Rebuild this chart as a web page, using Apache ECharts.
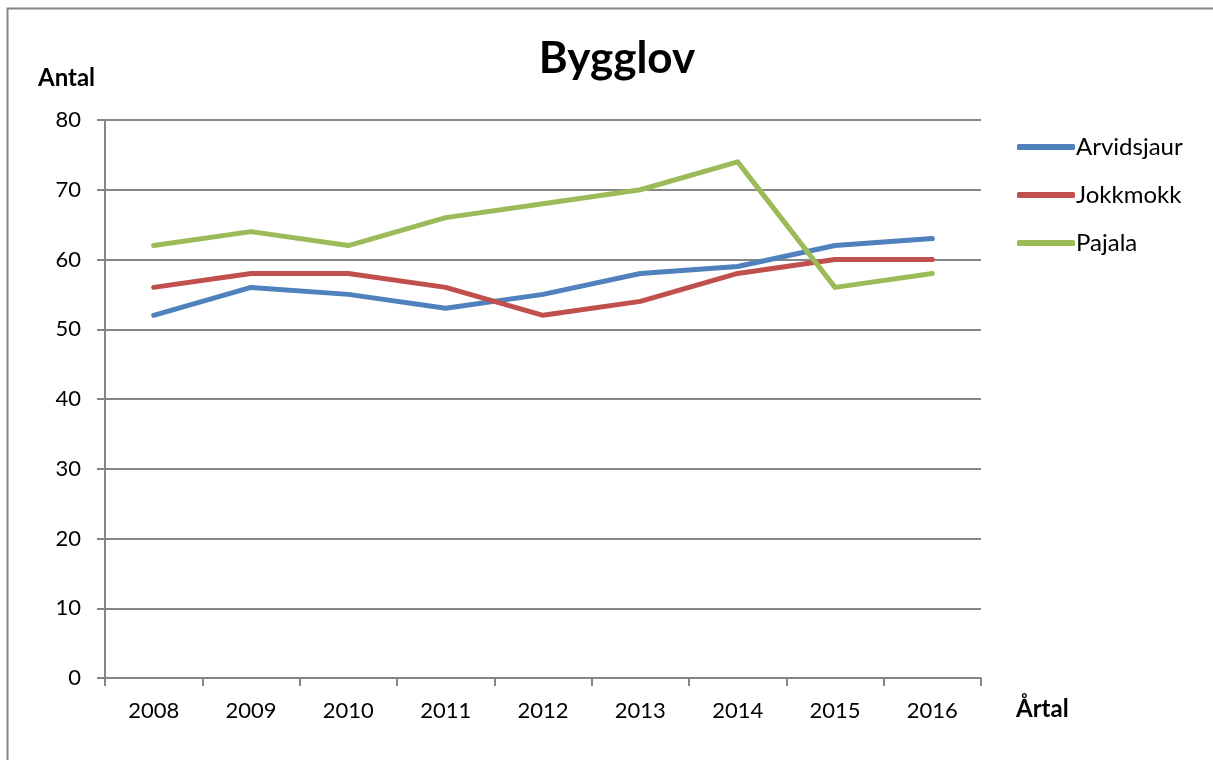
<!DOCTYPE html>
<html><head><meta charset="utf-8">
<script src="https://cdn.jsdelivr.net/npm/echarts@6/dist/echarts.min.js"></script>
<style>html,body{margin:0;padding:0;background:#fff}#c{width:1213px;height:760px}</style>
</head><body><div id="c"></div>
<script>
const years = ['2008','2009','2010','2011','2012','2013','2014','2015','2016'];
const arvidsjaur = [52, 56, 55, 53, 55, 58, 59, 62, 63];
const jokkmokk = [56, 58, 58, 56, 52, 54, 58, 60, 60];
const pajala = [62, 64, 62, 66, 68, 70, 74, 56, 58];
const yTicks = [0, 10, 20, 30, 40, 50, 60, 70, 80];

const font = 'Lato, "Open Sans", sans-serif';
const chart = echarts.init(document.getElementById('c'));
const mk = (name, data, color) => ({
  name, type: 'line', data, symbol: 'none', smooth: false,
  lineStyle: { width: 5, color, cap: 'round', join: 'round' },
  itemStyle: { color }
});
chart.setOption({
  animation: false,
  title: { text: 'Bygglov', left: 612, top: 32, textAlign: 'center',
    textStyle: { fontFamily: font, fontSize: 44, fontWeight: 'bold', color: '#000' } },
  graphic: [{ type: 'rect', shape: { x: 7.5, y: 8.5, width: 1400, height: 1000 },
    style: { fill: 'none', stroke: '#868686', lineWidth: 2 } }],
  grid: { left: 105, top: 120, width: 876, height: 558, containLabel: false },
  legend: { orient: 'vertical', left: 1012, top: 130, itemGap: 24, itemWidth: 58, itemHeight: 6,
    icon: 'roundRect',
    textStyle: { fontFamily: font, fontSize: 24, color: '#000', padding: [0, 0, 0, -4] } },
  xAxis: { type: 'category', data: years, boundaryGap: true,
    name: 'Årtal', nameLocation: 'end', nameGap: 0,
    nameTextStyle: { fontFamily: font, fontSize: 24, fontWeight: 'bold', color: '#000',
      align: 'left', verticalAlign: 'top', padding: [19, 0, 0, 35] },
    axisLine: { lineStyle: { color: '#868686', width: 2 } },
    axisTick: { show: true, alignWithLabel: false, length: 8, lineStyle: { color: '#868686', width: 2 } },
    axisLabel: { fontFamily: font, fontSize: 22, color: '#000', margin: 22 },
    splitLine: { show: false } },
  yAxis: { type: 'value', min: 0, max: 80, interval: 10,
    name: 'Antal', nameLocation: 'end', nameGap: 0,
    nameTextStyle: { fontFamily: font, fontSize: 24, fontWeight: 'bold', color: '#000',
      align: 'left', padding: [0, 0, 30, -67] },
    axisLine: { show: true, lineStyle: { color: '#868686', width: 2 } },
    axisTick: { show: true, inside: false, length: 8, lineStyle: { color: '#868686', width: 2 } },
    axisLabel: { fontFamily: font, fontSize: 22, color: '#000', margin: 24,
      formatter: v => yTicks.includes(v) ? String(v) : '' },
    splitLine: { show: true, lineStyle: { color: '#868686', width: 2 } } },
  series: [
    mk('Arvidsjaur', arvidsjaur, '#4F81BD'),
    mk('Jokkmokk', jokkmokk, '#C0504D'),
    mk('Pajala', pajala, '#9BBB59')
  ]
});
</script></body></html>
